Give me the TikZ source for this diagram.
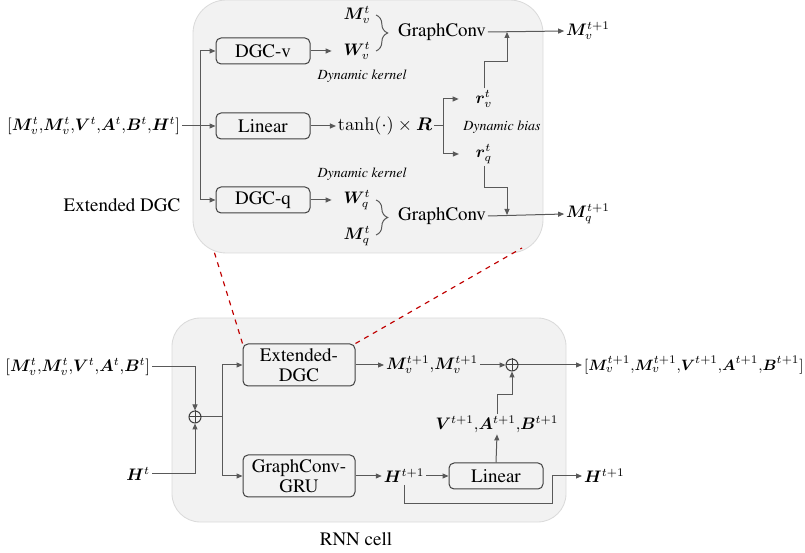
\documentclass[tikz,border=0pt]{standalone}
\usepackage[T1]{fontenc}
\renewcommand{\rmdefault}{ptm}
\usepackage{amsmath}
\usepackage{bm}
\usepackage{tikz}
\usetikzlibrary{arrows.meta, positioning}
\usetikzlibrary{decorations.pathreplacing}
\usetikzlibrary{calc}
\definecolor{panelgray}{HTML}{F2F2F2}
\definecolor{paneledge}{HTML}{DADADA}
\definecolor{linegray}{HTML}{595959}
\definecolor{boxedge}{HTML}{404040}
\definecolor{zoomred}{HTML}{C00000}

\newcommand{\bv}[1]{\bm{#1}}

\begin{document}
\begin{tikzpicture}[x=0.6pt, y=-0.6pt,
    every node/.style={font=\fontsize{11.4}{12}\selectfont, inner sep=1pt},
    sym/.style={font=\fontsize{10}{12}\selectfont},
    blk/.style={draw=boxedge, line width=0.6pt, rounded corners=3pt, minimum width=56.4pt, minimum height=15.6pt, align=center},
    tallblk/.style={blk, minimum width=67.2pt, minimum height=25.2pt},
    note/.style={font=\fontsize{8.4}{10}\selectfont\itshape},
    conn/.style={draw=linegray, line width=0.6pt},
    flow/.style={conn, -{Triangle[length=3.6pt, width=3pt]}},
    panel/.style={fill=panelgray, draw=paneledge, line width=0.5pt},
    zoomline/.style={draw=zoomred, dashed, line width=0.7pt},
    sum/.style={circle, draw=boxedge, line width=0.6pt, minimum size=7.2pt, inner sep=0pt},
    grp/.style={conn, decorate, decoration={brace, amplitude=7pt}}]
    \useasboundingbox (0,0) rectangle (805,553);

    % the two grey panels
    \draw[panel, rounded corners=20pt] (193,0) rectangle (543,253);
    \draw[panel, rounded corners=17pt] (172,318) rectangle (566,522);

    %% Extended DGC
    \node[sym, anchor=east] (inTop) at (182,126) {$[\bv{M}_v^t{,}\bv{M}_v^t{,}\bv{V}^t{,}\bv{A}^t{,}\bv{B}^t{,}\bv{H}^t]$};
    \node[blk] (dgcv) at (263,51) {DGC-v};
    \node[blk] (linTop) at (263,126) {Linear};
    \node[blk] (dgcq) at (263,200) {DGC-q};
    \coordinate (split) at (200,126);
    \draw[flow] (inTop.east) -- (linTop.west);
    \draw[flow] (split) |- (dgcv.west);
    \draw[flow] (split) |- (dgcq.west);
    \node at (122,205) {Extended DGC};

    \node[sym] (Mv) at (357,15) {$\bv{M}_v^t$};
    \node[sym] (Wv) at (357,51) {$\bv{W}_v^t$};
    \node (gcv) at (442,32) {GraphConv};
    \draw[flow, shorten >=6pt] (dgcv.east) -- (Wv.west);
    \draw[grp] (376,15) -- (376,51);
    \node[note] (kerV) at (362,76) {Dynamic kernel};

    \node (act) at (385,126) {$\tanh(\cdot)\times\bv{R}$};
    \draw[flow] (linTop.east) -- (act.west);
    \node[sym] (rv) at (484,99) {$\bv{r}_v^t$};
    \node[sym] (rq) at (484,154) {$\bv{r}_q^t$};
    \node[note] (bias) at (502,127) {Dynamic bias};
    \coordinate (fork) at (443,126);
    \draw[conn] (act.east) -- (fork);
    \draw[flow, shorten >=9pt] (fork) |- (rv.west);
    \draw[flow, shorten >=9pt] (fork) |- (rq.west);

    \node[note] (kerQ) at (362,174) {Dynamic kernel};
    \node[sym] (Wq) at (357,200) {$\bv{W}_q^t$};
    \node[sym] (Mq) at (357,236) {$\bv{M}_q^t$};
    \node (gcq) at (442,216) {GraphConv};
    \draw[flow, shorten >=6pt] (dgcq.east) -- (Wq.west);
    \draw[grp] (376,200) -- (376,235);

    \node[sym] (Mv1) at (588,31) {$\bv{M}_v^{t+1}$};
    \node[sym] (Mq1) at (588,214) {$\bv{M}_q^{t+1}$};
    \draw[flow] (gcv.east) -- (Mv1.west);
    \draw[flow] (gcq.east) -- (Mq1.west);
    \coordinate (biasV) at (507,32);
    \coordinate (biasQ) at (507,215);
    \draw[flow] (rv.north) -- ++(0,-27) -| (biasV);
    \draw[flow] (rq.south) -- ++(0,22) -| (biasQ);

    %% RNN cell
    \node[sym, anchor=east] (inBot) at (152,367) {$[\bv{M}_v^t{,}\bv{M}_v^t{,}\bv{V}^t{,}\bv{A}^t{,}\bv{B}^t]$};
    \node[sym, anchor=east] (Ht) at (152,474) {$\bv{H}^t$};
    \node[sum] (add1) at (195,417) {};
    \draw[conn, draw=boxedge] (add1.north) -- (add1.south) (add1.west) -- (add1.east);
    \draw[flow] (inBot.east) -| (add1.north);
    \draw[flow] (Ht.east) -| (add1.south);
    \coordinate (split2) at (222,417);
    \draw[conn] (add1.east) -- (split2);

    \node[tallblk] (edgc) at (299,365) {Extended-\\DGC};
    \node[tallblk] (gru) at (299,476) {GraphConv-\\GRU};
    \draw[flow] (split2) |- (edgc.west);
    \draw[flow] (split2) |- (gru.west);

    \node[sym] (Mout) at (432,365) {$\bv{M}_v^{t+1}{,}\bv{M}_v^{t+1}$};
    \node[sum] (add2) at (512,365) {};
    \draw[conn, draw=boxedge] (add2.north) -- (add2.south) (add2.west) -- (add2.east);
    \node[sym, font=\fontsize{9.3}{12}\selectfont, anchor=west] (outAll) at (582,365) {$[\bv{M}_v^{t+1}{,}\bv{M}_v^{t+1}{,}\bv{V}^{t+1}{,}\bv{A}^{t+1}{,}\bv{B}^{t+1}]$};
    \draw[flow] (edgc.east) -- (Mout.west);
    \draw[flow] (Mout.east) -- (add2.west);
    \draw[flow] (add2.east) -- (outAll.west);

    \node[sym] (VAB) at (497,424) {$\bv{V}^{t+1}{,}\bv{A}^{t+1}{,}\bv{B}^{t+1}$};
    \node[blk] (linBot) at (496,476) {Linear};
    \draw[flow] (VAB.north) -- ++(0,-19) -| (add2.south);
    \draw[flow] (linBot.north) -- (VAB.south);

    \node[sym] (Ht1) at (404,476) {$\bv{H}^{t+1}$};
    \node[sym, anchor=west] (Hout) at (582,476) {$\bv{H}^{t+1}$};
    \coordinate (byp) at (552,503);
    \draw[flow] (gru.east) -- (Ht1.west);
    \draw[flow] (Ht1.east) -- (linBot.west);
    \draw[flow] (Ht1.south) |- (byp) |- (Hout.west);
    \node (rnn) at (356,539) {RNN cell};

    % zoom lines to the expanded block
    \coordinate (zoomL) at (213,248);
    \coordinate (zoomR) at (522,248);
    \draw[zoomline] (edgc.north west) -- (zoomL);
    \draw[zoomline] (edgc.north east) -- (zoomR);
\end{tikzpicture}
\end{document}
